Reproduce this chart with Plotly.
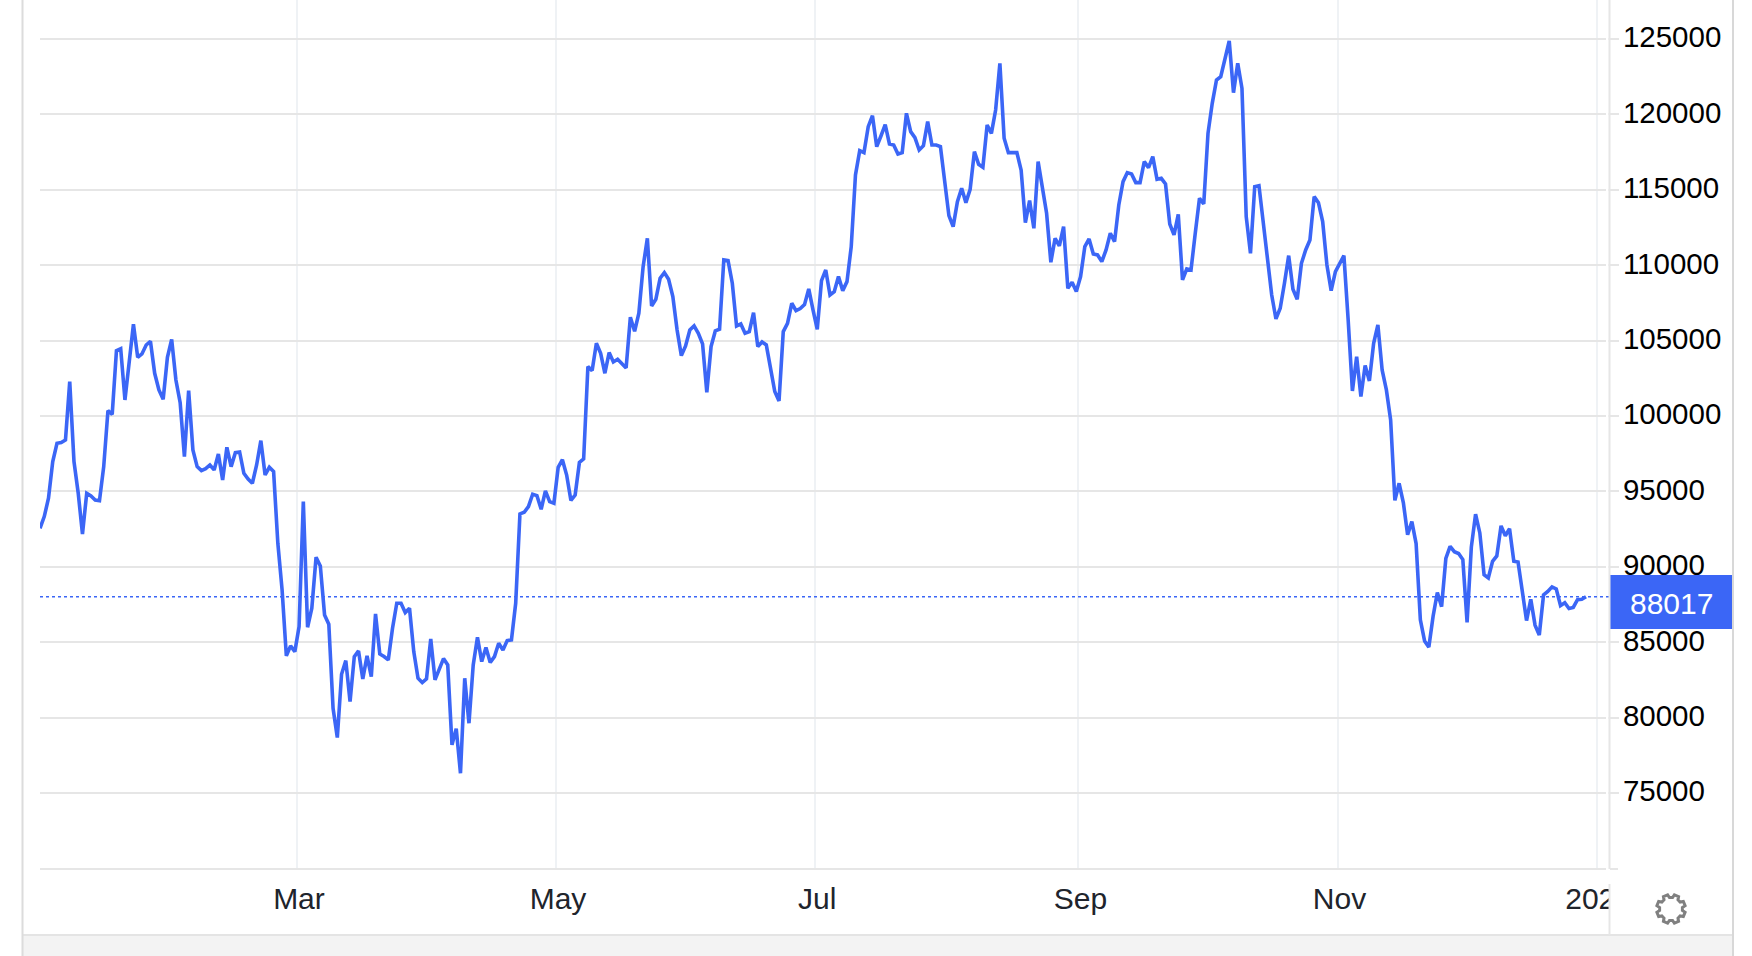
import math
import pandas as pd
import plotly.graph_objects as go

part_a = [92555,93328,94544,96975,98190,98234,98411,102278,96975,94875,92179,94875,94698,94433,94389,96643,100356,100113,104334,104466,
101063,103494,106080,103892,104113,104709,104953,102831,101726,101107,103892,105085,102389,100886,97306,101682,97748,96643,96378,96510,
96753,96422,97483,95759,97925,96643,97571,97615,96201,95825,95538,96753,98367,96091,96599,96312,91560,88466,84090,84753,
84377,86035,94323,85991,87251,90632,90057,86809,86190,80620,78676,82875,83781,81063,84046,84422,82565,84090,82720,86875,
84223,84046,83825,85925,87582,87582,86963,87251,84377,82610,82322,82565,85217,82499,83162,83914,83494,78190,79272,76311,
82610,79626,83494,85328,83714,84643,83648,84046,84930,84488,85107,85151,87582,93505,93615,93991,94809,94720,93814,95030,
94323,94212,96599]
part_b = [97100,96086,94400,94760,96920,97150]
part_c = [103276,103011,104823,104160,102834,104204,103585,103762,103497,103188,106547,105619,106812,109906,111785,107298,107740,109132,109508,109066,
107917,105707,104005,104646,105707,105972,105486,104779,101574,104602,105641,105751,110348,110304,108801,105972,106105,105486,105597,106856,
104602,104912,104713,103276,101619,101000,105597,106149,107475,106989,107121,107387,108425,107033,105751,108978,109685,108027,108248,109243,
108315,108911,111232,115983,117597,117464,119188,119917,117862,118569,119321,118039,117972,117376,117464,120072,118857,118459,117641,117928,
119520,117972,117972,117862,115652,113287,112558,114216,115100,114149,115033,117531,116691,116492,119299,118746,120293,123387,118414,117464,
117464,117464,116315,112823,114282,112447,116867,115320,113442,110193,111785,111276,112558,108470,108867,108249,109243,111232,111740,110746,
110680]
part_d = [110237,111011,112116,111564,113994,115541,116138,116050,115475,115475,116868,116470,117199,115696,115762,115387,112735,112006,113376,109022,
109751,109685,112116,114436,114061,118746,120735,122282,122503,123719,124868,121442,123387,121729,113221,110790,115210,115276,112779,110569,
108027,106436,107143,108801,110635,108403,107740,110127,111011,111674,114547,114149,112889,110016,108315,109575,110127,110635,106370,101663,
103939,101287,103342,102326,104823,106039,103055,101729,99740]
part_e = [94408,95536,94243,92127,92997,91539,86485,85074,84674,86720,88295,87355,90552,91351,90999,90881,90482,86320,91304,93491,
92245,89471,89259,90364,90717,92715,92057,92527,90364,90317,88248,86437,87848,86132,85474,88131,88366,88671,88530,87425,
87613,87237,87308,87825,87848,88017]
values = part_a + part_b + part_c + part_d + part_e
dates = pd.date_range("2024-12-30 12:00", periods=len(values), freq="D")

last_value = 88017
y_ticks = [75000,80000,85000,90000,95000,100000,105000,110000,115000,120000,125000]
x_ticks = ["2025-03-01","2025-05-01","2025-07-01","2025-09-01","2025-11-01","2026-01-01"]
x_labels = ["Mar","May","Jul","Sep","Nov","2026"]

BLUE = "#3b66f6"
GRID = "#e6e6e6"
VGRID = "#eff2f5"
W, H = 1752, 956
L, R, B = 40, 1606, 869

def px(x):
    return (x - L) / (R - L)
def py(y):
    return 1 - y / B
def rect(x0, y0, x1, y1, fill, line=None):
    return dict(type="rect", xref="paper", yref="paper", x0=px(x0), x1=px(x1), y0=py(y0), y1=py(y1),
                fillcolor=fill, line=dict(width=0), layer="above")
def vline(x, y0, y1, color, width=2):
    return dict(type="line", xref="paper", yref="paper", x0=px(x), x1=px(x), y0=py(y0), y1=py(y1),
                line=dict(color=color, width=width), layer="above")
def hline(x0, x1, y, color, width=2):
    return dict(type="line", xref="paper", yref="paper", x0=px(x0), x1=px(x1), y0=py(y), y1=py(y),
                line=dict(color=color, width=width), layer="above")

def gear_path():
    teeth = 8
    ro, ri = 14.5, 11.5
    pts = []
    for i in range(teeth):
        a = 2 * math.pi * (i + 0.5) / teeth
        s = 2 * math.pi / teeth
        for frac, r in [(-0.33, ri), (-0.2, ro), (0.2, ro), (0.33, ri)]:
            t = a + frac * s
            pts.append((r * math.cos(t), r * math.sin(t)))
    d = "M " + " L ".join(f"{p[0]:.2f},{p[1]:.2f}" for p in pts) + " Z"
    hr = 5.0
    d += f" M {hr},0 A {hr},{hr} 0 1,1 {-hr},0 A {hr},{hr} 0 1,1 {hr},0 Z"
    return d

fig = go.Figure()
fig.add_trace(go.Scatter(x=dates, y=values, mode="lines",
                         line=dict(color=BLUE, width=3.6), hoverinfo="skip", showlegend=False))

x0_date = dates[0]
x1_date = pd.Timestamp("2026-01-03 05:00")

shapes = [
    rect(1606.5, 0, 1608.5, 869, "white"),
    dict(type="line", xref="paper", yref="y", x0=0, x1=px(1610), y0=last_value, y1=last_value,
         line=dict(color=BLUE, width=1.6, dash="dot"), layer="above"),
    rect(1610, 871, 1732, 934, "white"),
    rect(1610, 575, 1732, 629, BLUE),
    rect(23, 935, 1733, 956, "#f3f3f3"),
    hline(23, 1733, 935, "#e4e4e4"),
    vline(22.5, 0, 956, "#dcdcdc"),
    vline(1733, 0, 956, "#d8d8d8"),
    vline(1609.5, 0, 869, GRID),
    vline(1609.5, 884, 935, GRID),
    hline(40, 1606, 869, GRID),
    hline(1610, 1618, 869, GRID),
    dict(type="path", path=gear_path(), xsizemode="pixel", ysizemode="pixel",
         xref="paper", yref="paper", xanchor=px(1671), yanchor=py(909),
         line=dict(color="#808080", width=3), fillcolor="rgba(0,0,0,0)", layer="above"),
]

fig.update_layout(
    width=W, height=H, autosize=False,
    margin=dict(l=L, r=W - R, t=0, b=H - B, pad=0),
    paper_bgcolor="white", plot_bgcolor="white",
    shapes=shapes, showlegend=False,
    font=dict(family="Liberation Sans, Arial, sans-serif"),
    xaxis=dict(type="date", range=[x0_date, x1_date], tickmode="array", tickvals=x_ticks, ticktext=x_labels,
               showgrid=True, gridcolor=VGRID, gridwidth=1.5, zeroline=False, showline=False,
               ticks="", tickfont=dict(size=30, color="#20242c"), ticklabelstandoff=9, ticklabelshift=2),
    yaxis=dict(side="right", range=[69960, 127586], tickmode="array", tickvals=y_ticks,
               ticktext=[str(v) for v in y_ticks],
               showgrid=True, gridcolor=GRID, gridwidth=1.5, zeroline=False, showline=False,
               ticks="outside", ticklen=12, tickcolor=GRID, tickwidth=1.5,
               tickfont=dict(size=29.5, color="#000000"), ticklabelstandoff=-2, ticklabelshift=-2),
    annotations=[dict(xref="paper", yref="paper", x=px(1671), y=py(603), xanchor="center", yanchor="middle",
                      text=str(last_value), showarrow=False, font=dict(size=30, color="white"))],
)

fig.write_html("out.html", include_plotlyjs=True, config=dict(displayModeBar=False),
               post_script="document.body.style.margin='0';document.documentElement.style.overflow='hidden';")
